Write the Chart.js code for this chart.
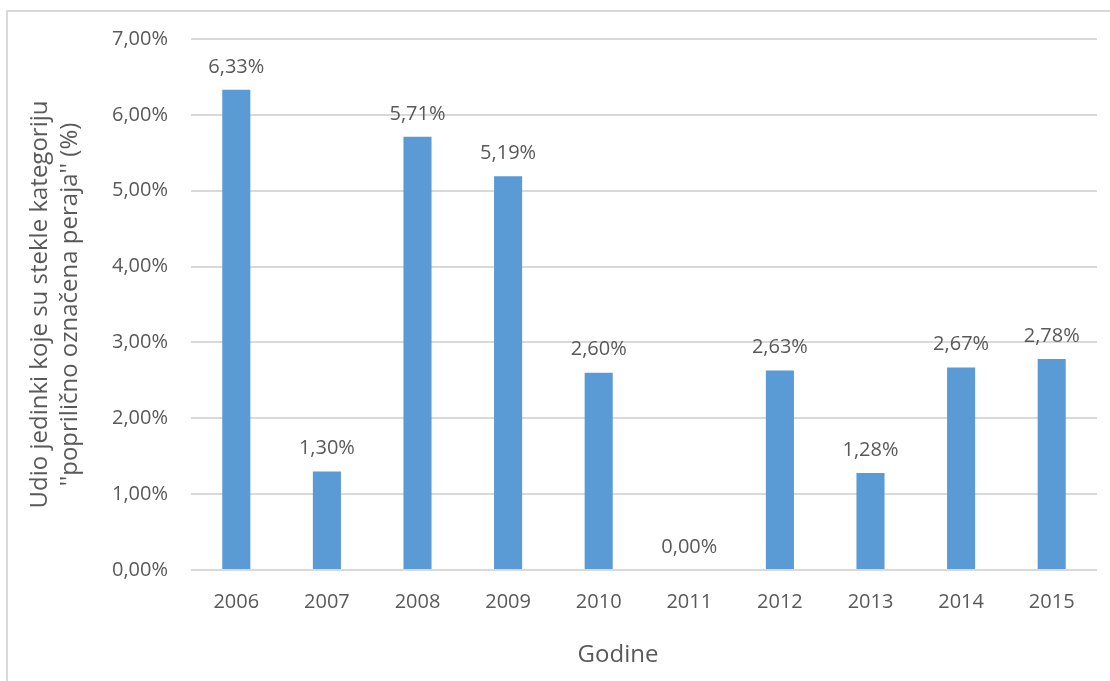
<!DOCTYPE html>
<html>
<head>
<meta charset="utf-8">
<script src="https://cdn.jsdelivr.net/npm/chart.js@4"></script>
<style>
  html, body { margin: 0; padding: 0; background: #fff; }
  #wrap { position: relative; width: 1110px; height: 681px; }
</style>
</head>
<body>
<div id="wrap"><canvas id="chart" width="1110" height="681"></canvas></div>
<script>
// podaci
const years = ['2006', '2007', '2008', '2009', '2010', '2011', '2012', '2013', '2014', '2015'];
const shares = [6.33, 1.30, 5.71, 5.19, 2.60, 0.00, 2.63, 1.28, 2.67, 2.78];
const yTitle = ['Udio jedinki koje su stekle kategoriju', "''poprilično označena peraja'' (%)"];
const xTitle = 'Godine';

const textColor = '#595959';
const fontFamily = '"Open Sans", "Noto Sans", sans-serif';

function fmt(v) {
  return v.toFixed(2).replace('.', ',') + '%';
}

// natpisi iznad stupaca + naslov x osi (malo lijevo od sredine, kao u Excelu)
const valueLabels = {
  id: 'valueLabels',
  afterDatasetsDraw(chart) {
    const ctx = chart.ctx;
    const meta = chart.getDatasetMeta(0);
    ctx.save();
    ctx.fillStyle = textColor;
    ctx.font = '20px ' + fontFamily;
    ctx.textAlign = 'center';
    ctx.textBaseline = 'middle';
    meta.data.forEach((bar, i) => {
      ctx.fillText(fmt(shares[i]), bar.x, bar.y - 23);
    });
    ctx.font = '24px ' + fontFamily;
    ctx.fillText(xTitle, chart.chartArea.left + 427, 655);
    ctx.restore();
  }
};

// okvir grafikona (lijevo i gore)
const frame = {
  id: 'frame',
  beforeDraw(chart) {
    const ctx = chart.ctx;
    ctx.save();
    ctx.strokeStyle = '#d9d9d9';
    ctx.lineWidth = 2;
    ctx.beginPath();
    ctx.moveTo(7, 681);
    ctx.lineTo(7, 11);
    ctx.lineTo(1110, 11);
    ctx.stroke();
    ctx.restore();
  }
};

new Chart(document.getElementById('chart'), {
  type: 'bar',
  data: {
    labels: years,
    datasets: [{
      data: shares,
      backgroundColor: '#5b9bd5',
      borderWidth: 0,
      categoryPercentage: 1,
      barPercentage: 0.31
    }]
  },
  options: {
    responsive: false,
    animation: false,
    layout: { padding: { left: 25, right: 13, top: 39, bottom: 0 } },
    plugins: {
      legend: { display: false },
      tooltip: { enabled: false }
    },
    scales: {
      y: {
        min: 0,
        max: 7,
        afterFit(scale) { scale.width = 166; },
        ticks: {
          stepSize: 1,
          padding: 23,
          color: textColor,
          font: { size: 20, family: fontFamily },
          callback: (v) => fmt(v)
        },
        grid: { color: '#d9d9d9', lineWidth: 2, drawTicks: false },
        border: { display: false },
        title: {
          display: true,
          text: yTitle,
          color: textColor,
          padding: 0,
          font: { size: 24, family: fontFamily, lineHeight: 1.25 }
        }
      },
      x: {
        afterFit(scale) { scale.height = 111; },
        ticks: {
          padding: 20,
          color: textColor,
          font: { size: 20, family: fontFamily }
        },
        grid: { display: false, drawTicks: false },
        border: { display: false }
      }
    }
  },
  plugins: [frame, valueLabels]
});
</script>
</body>
</html>
